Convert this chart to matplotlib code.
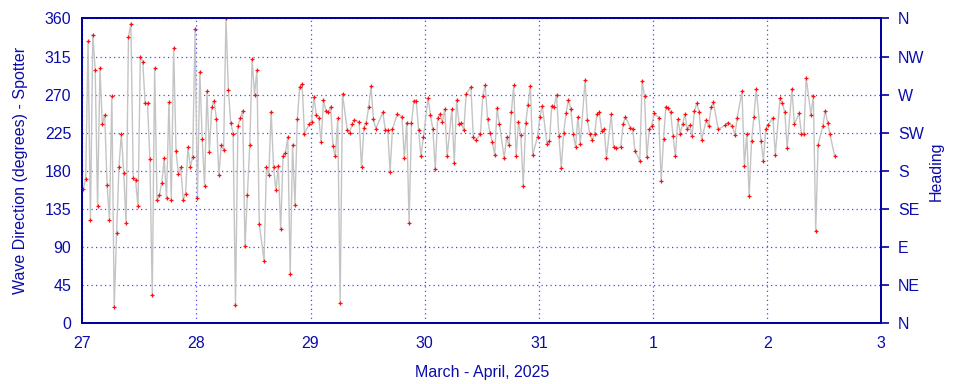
import numpy as np
import matplotlib
matplotlib.use("Agg")
import matplotlib.pyplot as plt

# Wave direction (degrees), one slot per 30 min starting 27 March ~00:13; None = no sample
direction = [
    159,170,333,122,341,299,139,301,235,246,
    163,122,268,19,107,185,224,177,118,338,
    354,172,169,138,315,309,260,260,194,34,
    301,146,151,166,195,148,261,146,325,203,
    176,184,146,153,208,185,196,347,148,297,
    218,162,274,202,255,263,241,175,210,205,
    360,276,237,224,22,233,242,251,91,152,
    210,312,270,299,117,None,74,184,175,250,
    184,157,186,111,198,201,220,58,211,140,
    241,279,283,224,None,235,238,267,246,243,
    214,264,251,249,256,209,197,242,24,271,
    None,228,225,235,240,None,238,184,231,237,
    255,280,241,230,None,None,249,228,228,179,
    229,None,247,None,244,195,237,119,236,263,
    263,228,197,220,None,266,246,229,182,242,
    247,238,253,197,None,253,189,264,235,236,
    228,271,None,279,220,216,None,223,269,281,
    241,225,214,199,254,235,None,195,220,210,
    249,281,197,238,222,162,236,258,280,199,
    None,220,244,257,None,212,215,257,256,270,
    221,183,225,248,264,253,224,208,244,212,
    None,287,240,223,217,223,247,249,227,230,
    195,None,247,208,207,None,208,235,244,None,
    231,230,204,None,192,286,268,196,229,233,
    248,None,243,168,218,256,254,249,221,197,
    241,224,235,247,229,234,221,251,260,249,
    217,None,240,233,255,261,None,229,None,None,
    234,237,None,233,222,243,None,274,186,224,
    150,215,244,277,None,215,192,230,234,None,
    243,199,None,266,260,249,207,None,277,235,
    None,248,223,223,290,None,246,269,109,211,
    None,233,251,237,223,None,197,
]
start_day = 27 + 13 / 1440.0   # 27 March 00:13
slot_days = 30 / 1440.0

x_ticks = [27, 28, 29, 30, 31, 32, 33, 34]
x_tick_labels = ["27", "28", "29", "30", "31", "1", "2", "3"]
y_ticks = [0, 45, 90, 135, 180, 225, 270, 315, 360]
heading_labels = ["N", "NE", "E", "SE", "S", "SW", "W", "NW", "N"]

t = np.array([start_day + i * slot_days for i, v in enumerate(direction) if v is not None])
v = np.array([v for v in direction if v is not None], dtype=float)

plt.rcParams['font.family'] = ['Liberation Sans', 'DejaVu Sans']
navy = '#0c0caa'
spinec = '#0000a0'
gridc = '#3c3cff'

fig = plt.figure(figsize=(9.6, 3.84), dpi=100)
ax = fig.add_axes([0.0857, 0.158, 0.8323, 0.794])

ax.plot(t, v, color='#c4c4c4', lw=1.0, zorder=2)
ax.plot(t, v, ls='none', marker='+', ms=3.5, mew=0.9, color='#ff1010', zorder=3)

ax.set_xlim(27, 34)
ax.set_ylim(0, 360)
ax.set_xticks(x_ticks)
ax.set_xticklabels(x_tick_labels)
ax.set_yticks(y_ticks)
ax.grid(True, color=gridc, ls=(0, (1, 2.6)), lw=0.9, alpha=0.95)
ax.set_axisbelow(True)
ax.tick_params(axis='both', colors=navy, labelsize=11.5, length=0)
ax.tick_params(axis='y', pad=8)
ax.tick_params(axis='x', pad=9)
for s in ax.spines.values():
    s.set_color(spinec)
    s.set_linewidth(1.3)
ax.set_ylabel("Wave Direction (degrees) - Spotter", color=navy, fontsize=11.5, labelpad=12)
ax.set_xlabel("March - April, 2025", color=navy, fontsize=11.5, labelpad=10)

ax2 = ax.twinx()
ax2.set_ylim(0, 360)
ax2.set_yticks(y_ticks)
ax2.set_yticklabels(heading_labels)
ax2.tick_params(axis='y', colors=spinec, labelcolor=navy, labelsize=11.5, length=6, width=1.2, pad=6, direction='out')
for s in ax2.spines.values():
    s.set_color(spinec)
    s.set_linewidth(1.3)
ax2.set_ylabel("Heading", color=navy, fontsize=11.5, labelpad=3)

fig.savefig("out.png", dpi=100)
